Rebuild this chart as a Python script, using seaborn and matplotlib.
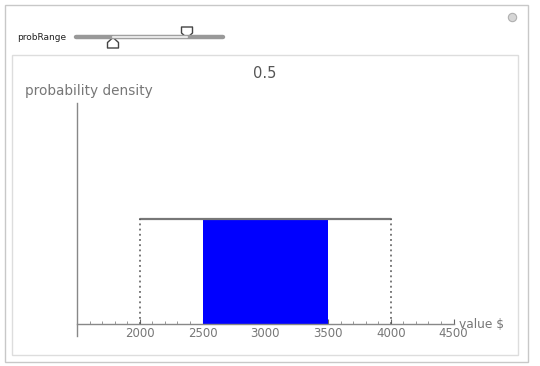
import matplotlib
matplotlib.use("Agg")
import matplotlib.pyplot as plt
from matplotlib.patches import Rectangle, Polygon
from matplotlib.lines import Line2D
import numpy as np
import pandas as pd
import seaborn as sns

# ---- data ----
dist_low = 2000
dist_high = 4000
prob_low = 2500
prob_high = 3500
prob_value = "0.5"
x_ticks = [2000, 2500, 3000, 3500, 4000, 4500]
x_min, x_max = 1500, 4500

density = 1.0 / (dist_high - dist_low)

sns.set_style("white")
plt.rcParams['font.family'] = ['DejaVu Sans']

W, H = 540, 366
fig = plt.figure(figsize=(W / 100, H / 100), dpi=100)

def fx(px):
    return px / W

def fy(py):
    return 1 - py / H

# outer frame and inner panel
fig.patches.append(Rectangle((fx(5), fy(362)), fx(523), (357) / H, transform=fig.transFigure,
                             fill=False, edgecolor="#c8c8c8", lw=1.0))
fig.patches.append(Rectangle((fx(12), fy(355)), fx(506), (300) / H, transform=fig.transFigure,
                             fill=False, edgecolor="#dddddd", lw=1.0))
# close button
fig.add_artist(Line2D([fx(512)], [fy(17)], transform=fig.transFigure, marker="o", ms=6,
                      mfc="#d6d6d6", mec="#b0b0b0", mew=0.8, ls="none"))

# slider
fig.text(fx(17), fy(37), "probRange", fontsize=6.5, color="#222222", va="center", ha="left")
fig.add_artist(Line2D([fx(76), fx(223)], [fy(37), fy(37)], transform=fig.transFigure,
                      color="#999999", lw=3.2, solid_capstyle="round"))
fig.add_artist(Line2D([fx(113), fx(187)], [fy(37), fy(37)], transform=fig.transFigure,
                      color="#e6e6e6", lw=1.6))
# lower thumb (pointing up)
lt = [(113, 37.5), (118.5, 42.5), (118.5, 48), (107.5, 48), (107.5, 42.5)]
fig.patches.append(Polygon([(fx(a), fy(b)) for a, b in lt], closed=True, transform=fig.transFigure,
                           facecolor="white", edgecolor="#444444", lw=1.0, joinstyle="round"))
# upper thumb (pointing down)
ut = [(187, 38), (192.5, 33), (192.5, 27), (181.5, 27), (181.5, 33)]
fig.patches.append(Polygon([(fx(a), fy(b)) for a, b in ut], closed=True, transform=fig.transFigure,
                           facecolor="white", edgecolor="#444444", lw=1.0, joinstyle="round"))

# main axes
px_left, px_right = 77, 453.5
px_zero, px_top = 324, 103
px_per_unit = (324 - 219) / density
y_top = (px_zero - px_top) / px_per_unit
y_bot = -(336 - px_zero) / px_per_unit
ax = fig.add_axes([fx(px_left), (H - 336) / H, (px_right - px_left) / W, (336 - px_top) / H])
ax.set_xlim(x_min, x_max)
ax.set_ylim(y_bot, y_top)
ax.patch.set_alpha(0)

# shaded probability region
ax.fill_between([prob_low, prob_high], [0, 0], [density, density], color="#0000ff", lw=0, zorder=2)

# density top line
df_top = pd.DataFrame({"x": [dist_low, dist_high], "y": [density, density]})
sns.lineplot(data=df_top, x="x", y="y", ax=ax, color="#777777", lw=1.6, zorder=3)
# dotted edges
ax.vlines([dist_low, dist_high], 0, density, colors="#555555", linewidth=1.1,
          linestyles=[(0, (1.2, 2.2))], zorder=3)

ax.set_xlabel("")
ax.set_ylabel("")
for s in ["top", "right"]:
    ax.spines[s].set_visible(False)
ax.spines["bottom"].set_position(("data", 0))
ax.spines["bottom"].set_color("#888888")
ax.spines["left"].set_color("#888888")
ax.spines["bottom"].set_linewidth(1.0)
ax.spines["left"].set_linewidth(1.0)
ax.spines["bottom"].set_zorder(4)

ax.set_xticks(x_ticks)
ax.set_xticklabels([str(t) for t in x_ticks])
ax.set_xticks(np.arange(1600, 4500, 100), minor=True)
ax.set_yticks([])
ax.tick_params(axis="x", which="major", direction="in", length=3.5, width=0.8, color="#666666",
               labelsize=8.5, labelcolor="#777777", pad=2, bottom=True)
ax.tick_params(axis="x", which="minor", direction="in", length=2, width=0.6, color="#888888", bottom=True)

fig.text(fx(265), fy(74), prob_value, fontsize=10.5, color="#555555", ha="center", va="center")
fig.text(fx(25), fy(91), "probability density", fontsize=9.8, color="#777777", ha="left", va="center")
fig.text(fx(459), fy(324), "value $", fontsize=8.8, color="#777777", ha="left", va="center")

fig.savefig("out.png", dpi=100)
